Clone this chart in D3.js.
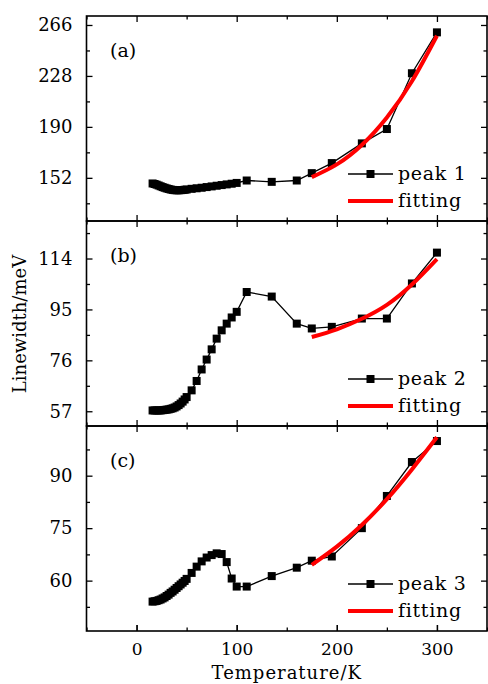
<!DOCTYPE html>
<html>
<head>
<meta charset="utf-8">
<script src="https://cdn.jsdelivr.net/npm/d3@7"></script>
<style>
  body { margin: 0; background: #fff; }
  svg { display: block; }
  text { font-family: "DejaVu Serif", "Liberation Serif", serif; fill: #000; }
</style>
</head>
<body>
<svg id="chart" width="488" height="684"></svg>
<script>
// temperatures (K)
const temps = [16, 18, 20, 22, 24, 26, 28, 30, 32, 34, 36, 38, 40, 42, 44, 46, 48, 50,
  55, 60, 65, 70, 75, 80, 85, 90, 95, 100, 110, 135, 160, 175, 195, 225, 250, 275, 300];

const peak1 = [147.8, 147.4, 146.9, 146.3, 145.7, 145.1, 144.6, 144.1, 143.7, 143.3, 143.0, 142.8, 142.7, 142.7, 142.8, 142.9, 143.1, 143.3,
  143.8, 144.2, 144.6, 145.1, 145.6, 146.1, 146.6, 147.1, 147.6, 148.2, 150.0, 149.0, 150.0, 155.5, 163.0, 177.7, 188.4, 230.0, 260.5];
const peak2 = [57.3, 57.3, 57.3, 57.3, 57.3, 57.4, 57.5, 57.6, 57.7, 57.9, 58.1, 58.4, 58.8, 59.3, 59.9, 60.6, 61.4, 62.3,
  64.8, 68.3, 72.6, 76.3, 80.1, 84.1, 87.2, 89.7, 92.0, 94.1, 101.5, 99.8, 89.7, 87.9, 88.5, 91.6, 91.6, 104.7, 116.2];
const peak3 = [54.0, 54.1, 54.2, 54.4, 54.6, 54.9, 55.2, 55.6, 56.0, 56.5, 56.9, 57.4, 57.9, 58.4, 58.9, 59.4, 59.9, 60.5,
  62.2, 64.0, 65.5, 66.6, 67.3, 67.8, 67.6, 65.3, 60.6, 58.3, 58.3, 61.3, 63.7, 65.7, 66.9, 75.0, 84.2, 93.9, 99.9];

// fitting curves
const fitT = [175, 200, 225, 250, 275, 300];
const fit1 = [152.5, 162.0, 176.5, 197.0, 224.0, 258.0];
const fit2 = [84.7, 87.6, 91.5, 96.7, 104.3, 113.8];
const fit3 = [64.5, 69.7, 75.9, 83.3, 91.8, 101.0];

const xTicks = [0, 100, 200, 300];
const xMinor = [-50, 50, 150, 250, 350];

const panels = [
  { tag: '(a)', name: 'peak 1', vals: peak1, fit: fit1, domain: [119.8, 272.7],
    ticks: [152, 190, 228, 266], minor: [133, 171, 209, 247] },
  { tag: '(b)', name: 'peak 2', vals: peak2, fit: fit2, domain: [51.5, 128],
    ticks: [57, 76, 95, 114], minor: [66.5, 85.5, 104.5, 123.5] },
  { tag: '(c)', name: 'peak 3', vals: peak3, fit: fit3, domain: [45.6, 104.2],
    ticks: [60, 75, 90], minor: [52.5, 67.5, 82.5, 97.5] }
];

const left = 86.5, right = 487, top0 = 16, ph = 205;
const svg = d3.select('#chart');

const x = d3.scaleLinear().domain([-50, 350]).range([left, right]);

panels.forEach((p, i) => {
  const top = top0 + i * ph;
  const y = d3.scaleLinear().domain(p.domain).range([top + ph, top]);
  const g = svg.append('g');

  // ticks, all inward
  const addAxis = (axis, tx, ty) => {
    const a = g.append('g').attr('transform', `translate(${tx},${ty})`).call(axis);
    a.select('.domain').remove();
    a.selectAll('line').attr('stroke', '#000').attr('stroke-width', 1.3);
    return a;
  };
  addAxis(d3.axisBottom(x).tickValues(xTicks).tickSize(-6).tickFormat(''), 0, top + ph);
  addAxis(d3.axisBottom(x).tickValues(xMinor).tickSize(-3.5).tickFormat(''), 0, top + ph);
  addAxis(d3.axisTop(x).tickValues(xTicks).tickSize(-6).tickFormat(''), 0, top);
  addAxis(d3.axisTop(x).tickValues(xMinor).tickSize(-3.5).tickFormat(''), 0, top);
  addAxis(d3.axisRight(y).tickValues(p.ticks).tickSize(-6).tickFormat(''), right, 0);
  addAxis(d3.axisRight(y).tickValues(p.minor).tickSize(-3.5).tickFormat(''), right, 0);
  addAxis(d3.axisLeft(y).tickValues(p.minor).tickSize(-3.5).tickFormat(''), left, 0);
  const yl = addAxis(d3.axisLeft(y).tickValues(p.ticks).tickSize(-6).tickPadding(14), left, 0);
  yl.selectAll('text')
    .style('font-family', '"DejaVu Serif", serif')
    .style('font-size', '18px')
    .attr('fill', '#000');

  if (i === panels.length - 1) {
    const xl = addAxis(d3.axisBottom(x).tickValues(xTicks).tickSize(-6).tickPadding(12), 0, top + ph);
    xl.selectAll('text')
      .style('font-family', '"DejaVu Serif", serif')
      .style('font-size', '17px')
      .attr('fill', '#000');
  }

  // data line and squares
  const pts = temps.map((t, k) => [t, p.vals[k]]);
  g.append('path')
    .datum(pts)
    .attr('fill', 'none')
    .attr('stroke', '#000')
    .attr('stroke-width', 1.3)
    .attr('d', d3.line().x(d => x(d[0])).y(d => y(d[1])));

  g.selectAll('rect.pt')
    .data(pts)
    .enter()
    .append('rect')
    .attr('class', 'pt')
    .attr('x', d => x(d[0]) - 4)
    .attr('y', d => y(d[1]) - 4)
    .attr('width', 8)
    .attr('height', 8)
    .attr('fill', '#000');

  // fitting
  g.append('path')
    .datum(fitT.map((t, k) => [t, p.fit[k]]))
    .attr('fill', 'none')
    .attr('stroke', '#f00')
    .attr('stroke-width', 4)
    .attr('d', d3.line().curve(d3.curveNatural).x(d => x(d[0])).y(d => y(d[1])));

  // frame
  g.append('rect')
    .attr('x', left).attr('y', top)
    .attr('width', right - left).attr('height', ph)
    .attr('fill', 'none')
    .attr('stroke', '#000')
    .attr('stroke-width', 1.6);

  // panel tag
  g.append('text')
    .attr('x', 110).attr('y', top + 41)
    .style('font-size', '19px')
    .text(p.tag);

  // legend
  const ly1 = top + 158, ly2 = top + 185;
  g.append('line').attr('x1', 348).attr('x2', 393).attr('y1', ly1).attr('y2', ly1)
    .attr('stroke', '#000').attr('stroke-width', 1.3);
  g.append('rect').attr('x', 366.5).attr('y', ly1 - 4).attr('width', 8).attr('height', 8).attr('fill', '#000');
  g.append('text').attr('x', 398).attr('y', ly1 + 6).style('font-size', '19px')
    .style('letter-spacing', '0.7px').text(p.name);
  g.append('line').attr('x1', 348).attr('x2', 393).attr('y1', ly2).attr('y2', ly2)
    .attr('stroke', '#f00').attr('stroke-width', 4);
  g.append('text').attr('x', 398).attr('y', ly2 + 6).style('font-size', '19px')
    .style('letter-spacing', '0.7px').text('fitting');
});

// axis titles
svg.append('text')
  .attr('x', (left + right) / 2).attr('y', 679)
  .attr('text-anchor', 'middle')
  .style('font-size', '18px')
  .style('letter-spacing', '1px')
  .text('Temperature/K');

svg.append('text')
  .attr('transform', 'translate(26,324) rotate(-90)')
  .attr('text-anchor', 'middle')
  .style('font-size', '18px')
  .text('Linewidth/meV');
</script>
</body>
</html>
